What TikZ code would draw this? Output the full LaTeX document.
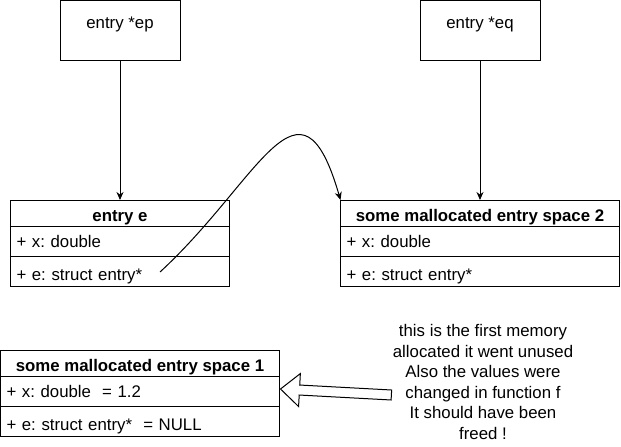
\documentclass[tikz,border=0pt]{standalone}
\usepackage{fontspec}
\setmainfont{Liberation Sans}
\usetikzlibrary{arrows.meta, positioning, calc}
\frenchspacing
\tikzset{
  every picture/.style={line width=1pt, font=\fontsize{16.8}{20.5}\selectfont},
  varbox/.style={draw, minimum width=120pt, minimum height=60pt, inner sep=0pt, text height=6pt, text depth=10pt},
  head/.style={draw, minimum width=#1, minimum height=26pt, inner sep=0pt, outer sep=0pt, font=\fontsize{16.8}{20.5}\selectfont\bfseries, text height=18.5pt, text depth=1pt},
  row/.style={draw, text width=#1, align=left, inner xsep=6pt, inner ysep=0pt, outer sep=0pt, minimum height=30pt, text height=15pt, text depth=2.4pt},
  lastrow/.style={text height=21pt, text depth=1.6pt},
  arrow/.style={-{Stealth[length=8pt, width=7pt]}},
  note/.style={align=center, inner sep=0pt},
}

\begin{document}
\begin{tikzpicture}[x=1pt, y=-1pt,
    hollow/.style={draw, fill=white, line join=miter},
  ]
  \useasboundingbox (0,0) rectangle (621,447);

  % ---- pointers
  \node[varbox] (ep) at (120,30) {entry *ep};
  \node[varbox] (eq) at (480,30) {entry *eq};

  % ---- entry e
  \node[head=219pt, anchor=north] (ent) at (120,200) {entry e};
  \node[row=207pt, below=0pt of ent] (entx) {+ x: double};
  \node[row=207pt, lastrow, below=0pt of entx] (ente) {+ e: struct entry*};

  % ---- space 2
  \node[head=279pt, anchor=north] (sp2) at (480,200) {some mallocated entry space 2};
  \node[row=267pt, below=0pt of sp2] (sp2x) {+ x: double};
  \node[row=267pt, lastrow, below=0pt of sp2x] (sp2e) {+ e: struct entry*};

  % ---- space 1
  \node[head=279pt, anchor=north] (sp1) at (140,350) {some mallocated entry space 1};
  \node[row=267pt, below=0pt of sp1] (sp1x) {+ x: double\ \ = 1.2};
  \node[row=267pt, lastrow, below=0pt of sp1x] (sp1e) {+ e: struct entry*\ \ = NULL};

  \node[note] (note) at (483,382) {this is the first memory\\allocated it went unused\\Also the values were\\changed in function f\\It should have been\\freed !};

  \draw[arrow] (ep.south) -- (ent.north);
  \draw[arrow] (eq.south) -- (sp2.north);

  \coordinate (ptr) at (160,272);
  \draw[arrow] (ptr) .. controls (260,180) and (300,60) .. (sp2.north west);

  % block arrow from the note
  \coordinate (tip) at ($(sp1x.east)+(1,-2)$);
  \coordinate (tail) at ($(note.west)+(-1,13)$);
  \coordinate (neck) at ($(tip)!19pt!(tail)$);
  \draw[hollow] ($(tail)!5pt!90:(tip)$) -- ($(neck)!5pt!-90:(tail)$) -- ($(neck)!16.5pt!-90:(tail)$)
    -- (tip) -- ($(neck)!16.5pt!90:(tail)$) -- ($(neck)!5pt!90:(tail)$) -- ($(tail)!5pt!-90:(tip)$) -- cycle;
\end{tikzpicture}
\end{document}
